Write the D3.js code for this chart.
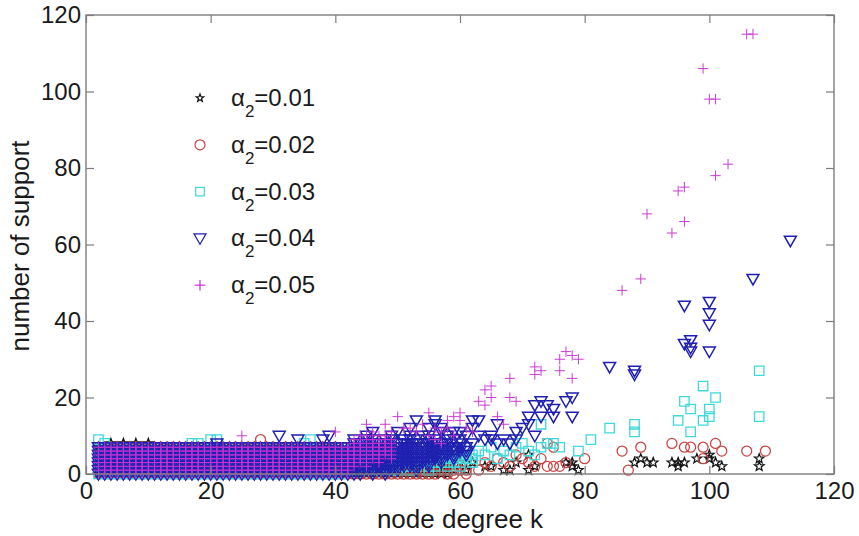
<!DOCTYPE html>
<html>
<head>
<meta charset="utf-8">
<script src="https://cdn.jsdelivr.net/npm/d3@7/dist/d3.min.js"></script>
<style>
body { margin: 0; background: #fff; }
text { font-family: "Liberation Sans", Arial, Helvetica, sans-serif; fill: #1a1a1a; }
</style>
</head>
<body>
<svg width="859" height="536"></svg>
<script>
// axis ticks
var degreeTicks = [0, 20, 40, 60, 80, 100, 120];
var supportTicks = [0, 20, 40, 60, 80, 100, 120];
var alphaLabels = ["0.01", "0.02", "0.03", "0.04", "0.05"];

// blocks: [kFrom, kTo, supportFrom, supportTo] -> every integer pair in range was observed
// points: [k, support]
var starBlocks = [[2, 40, 0, 7], [41, 58, 0, 2]];
var starPoints = [[4, 8], [6, 8], [8, 8], [10, 8], [59, 1], [60, 3], [61, 1], [62, 3], [64, 2], [65, 2], [67, 1], [68, 1],
  [69, 3], [71, 1], [71, 5], [72, 2], [77, 3], [78, 3], [78, 2], [79, 1], [88, 3], [89, 4], [90, 3],
  [91, 3], [94, 3], [95, 3], [96, 3], [95, 2], [98, 4], [100, 5], [100, 4], [101, 3], [102, 2], [108, 4], [108, 2]];

var circleBlocks = [[2, 40, 0, 7], [41, 50, 0, 2], [51, 51, 0, 1], [52, 52, 0, 2], [53, 53, 0, 1], [54, 54, 0, 2],
  [55, 55, 0, 1], [56, 56, 0, 2], [57, 57, 1, 2], [58, 58, 0, 1], [59, 59, 0, 2], [60, 60, 1, 2], [61, 61, 0, 1]];
var circlePoints = [[28, 9], [63, 1], [64, 3], [65, 2], [66, 4], [67, 3], [68, 2], [69, 5], [70, 4], [71, 3],
  [72, 2], [73, 4], [74, 8], [75, 7], [74, 2], [75, 2], [76, 2], [77, 3], [80, 4], [86, 6], [87, 1], [89, 7],
  [94, 8], [96, 7], [97, 7], [99, 7], [99, 4], [101, 8], [102, 6], [106, 6], [109, 6]];

var squareBlocks = [[2, 41, 0, 7], [42, 44, 1, 4], [45, 45, 2, 5], [46, 47, 1, 3], [48, 48, 2, 5], [49, 50, 1, 4],
  [51, 51, 2, 6], [52, 52, 1, 3], [53, 53, 2, 5], [54, 54, 3, 6], [55, 55, 1, 4], [56, 56, 2, 6], [57, 57, 3, 5],
  [58, 58, 2, 7], [59, 59, 3, 6], [60, 60, 2, 5], [61, 61, 4, 7], [62, 62, 3, 5]];
var squarePoints = [[2, 9], [3, 8], [17, 8], [18, 8], [20, 9], [21, 9], [35, 8], [36, 9], [63, 6], [64, 5],
  [65, 7], [66, 4], [67, 6], [68, 5], [69, 7], [70, 8], [71, 6], [72, 5], [73, 13], [73, 7], [74, 8], [75, 8],
  [76, 7], [79, 6], [81, 9], [84, 12], [88, 13], [88, 11], [95, 14], [96, 19], [97, 17], [97, 11], [99, 23],
  [99, 14], [100, 17], [100, 15], [101, 20], [108, 27], [108, 15]];

var triangleBlocks = [[2, 42, 0, 7], [43, 43, 0, 9], [44, 44, 0, 8], [45, 45, 1, 10], [46, 46, 0, 9], [47, 47, 1, 8],
  [48, 48, 0, 9], [49, 49, 1, 10], [50, 50, 1, 8], [51, 51, 2, 9], [52, 52, 2, 10], [53, 53, 1, 9], [54, 54, 3, 8],
  [55, 55, 2, 10], [56, 56, 4, 9], [57, 57, 3, 8], [58, 58, 5, 9], [59, 59, 4, 7], [60, 60, 6, 8], [61, 61, 5, 7]];
var trianglePoints = [[21, 8], [31, 10], [34, 9], [38, 9], [39, 10], [46, 11], [50, 11], [52, 12], [53, 14],
  [54, 10], [55, 12], [56, 14], [56, 13], [57, 12], [57, 11], [58, 10], [59, 11], [59, 9], [60, 11], [60, 9],
  [61, 10], [62, 12], [62, 14], [62, 8], [63, 14], [63, 10], [64, 9], [65, 10], [65, 9], [66, 13], [66, 8],
  [67, 9], [68, 8], [69, 11], [69, 9], [70, 12], [71, 15], [71, 13], [72, 10], [72, 18], [73, 19], [73, 15],
  [74, 18], [75, 17], [75, 15], [77, 19], [78, 20], [78, 15], [84, 28], [88, 27], [88, 26], [96, 44], [96, 34],
  [97, 35], [97, 33], [97, 32], [100, 45], [100, 42], [100, 39], [100, 32], [107, 51], [113, 61]];

var plusBlocks = [[2, 42, 0, 7], [43, 43, 2, 9], [44, 44, 3, 8], [45, 45, 2, 10], [46, 46, 4, 9], [47, 47, 3, 8],
  [48, 48, 5, 10], [49, 49, 4, 9]];
var plusPoints = [[25, 10], [40, 11], [44, 10], [45, 13], [46, 11], [47, 10], [48, 13], [49, 11], [50, 15],
  [51, 12], [52, 12], [53, 11], [54, 13], [55, 16], [55, 10], [56, 12], [56, 9], [57, 11], [57, 8], [58, 14],
  [58, 12], [59, 15], [59, 10], [60, 16], [60, 14], [61, 12], [62, 11], [63, 19], [64, 18], [64, 22], [65, 23],
  [65, 20], [66, 15], [67, 13], [68, 25], [68, 20], [69, 19], [72, 28], [73, 27], [72, 26], [76, 30], [76, 27],
  [77, 32], [78, 31], [79, 30], [78, 25], [86, 48], [89, 51], [90, 68], [94, 63], [95, 74], [96, 75], [96, 66],
  [99, 106], [100, 98], [101, 98], [101, 78], [103, 81], [106, 115], [107, 115]];

function expand(blocks, points) {
  var out = [];
  blocks.forEach(function (b) {
    for (var k = b[0]; k <= b[1]; k++)
      for (var v = b[2]; v <= b[3]; v++) out.push([k, v]);
  });
  return out.concat(points);
}

// marker shapes
function star(R) {
  var r = R * 0.42, s = "";
  for (var i = 0; i < 10; i++) {
    var a = -Math.PI / 2 + i * Math.PI / 5, rr = i % 2 ? r : R;
    s += (i ? "L" : "M") + (rr * Math.cos(a)).toFixed(2) + "," + (rr * Math.sin(a)).toFixed(2);
  }
  return s + "Z";
}
var shapes = {
  star: star(5),
  circle: "M5,0A5,5 0 1,1 -5,0A5,5 0 1,1 5,0Z",
  square: "M-4.7,-4.7H4.7V4.7H-4.7Z",
  triangle: "M-6,-4.5H6L0,6Z",
  plus: "M-5.2,0H5.2M0,-5.2V5.2"
};
var legendShapes = {
  star: star(4),
  circle: shapes.circle,
  square: "M-4.3,-4.3H4.3V4.3H-4.3Z",
  triangle: shapes.triangle,
  plus: shapes.plus
};

var series = [
  { shape: "star", color: "#151515", width: 1.25, data: expand(starBlocks, starPoints) },
  { shape: "circle", color: "#c94444", width: 1.25, data: expand(circleBlocks, circlePoints) },
  { shape: "square", color: "#3fd9d9", width: 1.3, data: expand(squareBlocks, squarePoints) },
  { shape: "triangle", color: "#1f1fb0", width: 1.5, data: expand(triangleBlocks, trianglePoints) },
  { shape: "plus", color: "#c832d4", width: 0.95, data: expand(plusBlocks, plusPoints) }
];

var svg = d3.select("svg");
var x = d3.scaleLinear().domain([0, 120]).range([86, 834]);
var y = d3.scaleLinear().domain([0, 120]).range([474, 15]);

// markers
series.forEach(function (s) {
  svg.append("g").selectAll("path").data(s.data).enter().append("path")
    .attr("transform", function (d) { return "translate(" + x(d[0]) + "," + y(d[1]) + ")"; })
    .attr("d", shapes[s.shape])
    .attr("fill", "none")
    .attr("stroke", s.color)
    .attr("stroke-width", s.width);
});

// axes box
var axisColor = "#7d7d7d";
function styleAxis(g, labels) {
  g.select(".domain").remove();
  g.selectAll(".tick line").attr("stroke", axisColor).attr("stroke-width", 1.2);
  if (labels) g.selectAll(".tick text").attr("font-size", 24).attr("fill", "#1a1a1a");
  else g.selectAll(".tick text").remove();
}
svg.append("g").attr("transform", "translate(0,474)")
  .call(d3.axisBottom(x).tickValues(degreeTicks).tickSizeInner(-8).tickSizeOuter(0).tickPadding(8))
  .call(styleAxis, true);
svg.append("g").attr("transform", "translate(0,15)")
  .call(d3.axisTop(x).tickValues(degreeTicks).tickSizeInner(-8).tickSizeOuter(0))
  .call(styleAxis, false);
svg.append("g").attr("transform", "translate(86,0)")
  .call(d3.axisLeft(y).tickValues(supportTicks).tickSizeInner(-8).tickSizeOuter(0).tickPadding(5))
  .call(styleAxis, true);
svg.append("g").attr("transform", "translate(834,0)")
  .call(d3.axisRight(y).tickValues(supportTicks).tickSizeInner(-8).tickSizeOuter(0))
  .call(styleAxis, false);
svg.append("rect").attr("x", 86).attr("y", 15).attr("width", 748).attr("height", 459)
  .attr("fill", "none").attr("stroke", axisColor).attr("stroke-width", 1.4);

// axis titles
svg.append("text").attr("x", 460).attr("y", 528).attr("text-anchor", "middle")
  .attr("font-size", 26).text("node degree k");
svg.append("text").attr("transform", "translate(29,246) rotate(-90)").attr("text-anchor", "middle")
  .attr("font-size", 26).text("number of support");

// legend
var legend = svg.append("g");
series.forEach(function (s, i) {
  var cy = 98 + i * 46.8;
  legend.append("path").attr("transform", "translate(200," + cy + ")")
    .attr("d", legendShapes[s.shape]).attr("fill", "none")
    .attr("stroke", s.color).attr("stroke-width", 1.2);
  var t = legend.append("text").attr("x", 231).attr("y", cy + 8).attr("font-size", 24);
  t.append("tspan").text("\u03b1");
  t.append("tspan").attr("font-size", 17).attr("dy", 11).text("2");
  t.append("tspan").attr("dy", -11).text("=" + alphaLabels[i]);
});
</script>
</body>
</html>
